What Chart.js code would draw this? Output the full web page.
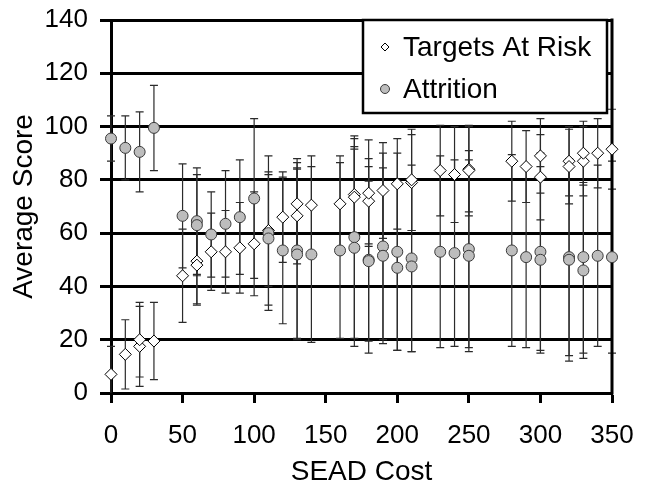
<!DOCTYPE html>
<html>
<head>
<meta charset="utf-8">
<script src="https://cdn.jsdelivr.net/npm/chart.js@4.4.1/dist/chart.umd.min.js"></script>
<style>
  body { margin: 0; background: #fff; }
  #wrap { width: 645px; height: 483px; }
</style>
</head>
<body>
<div id="wrap"><canvas id="grafico" width="645" height="483"></canvas></div>
<script>
// Targets At Risk (diamonds)
const targetCost = [0, 10, 20, 20, 30, 50, 60, 60, 70, 80, 90, 100, 110, 120, 130, 130, 140, 160, 170, 170,
  180, 180, 190, 200, 210, 210, 230, 240, 250, 250, 280, 290, 300, 300, 320, 320, 330, 330, 340, 350];
const targetScore = [7, 14.5, 17.5, 20, 19.5, 44, 49.5, 48, 53, 53, 54.5, 56, 61, 66, 66.5, 71, 70.5, 71, 74.5, 73.5,
  72, 75, 76, 78.5, 79, 80, 83.5, 82, 84, 83.5, 87, 85, 89, 81, 87, 85, 87, 90, 90, 91.5];
const targetErr = [10.5, 13, 15, 14, 14.5, 17.5, 16, 15, 14.5, 15.5, 17, 19.5, 21, 17, 18, 17, 18.5, 18, 21, 19,
  16, 20, 18, 17, 18, 19, 17, 18, 16, 17, 15, 13.5, 14, 16, 13, 14, 13, 12, 13, 15];

// Attrition (circles)
const attritionCost = [0, 10, 20, 30, 50, 60, 60, 70, 80, 90, 100, 110, 110, 120, 130, 130, 140, 160, 170, 170,
  180, 180, 190, 190, 200, 200, 210, 210, 230, 240, 250, 250, 280, 290, 300, 300, 320, 320, 330, 330, 340, 350];
const attritionScore = [95.5, 92, 90.5, 99.5, 66.5, 64.5, 63, 59.5, 63.5, 66, 73, 60, 58, 53.5, 53.5, 52, 52, 53.5, 58.5, 54.5,
  50, 49.5, 55, 51.5, 53, 47, 50.5, 47.5, 53, 52.5, 54, 51.5, 53.5, 51, 53, 50, 51, 50, 51, 46, 51.5, 51];
const attritionErr = [8.5, 12, 15, 16, 19.5, 20, 19, 16, 20, 21.5, 30, 29, 25, 27.5, 33, 32, 33, 33, 38, 37,
  35, 30, 35, 33, 37, 31, 35, 32, 36, 35, 37, 36, 36, 34, 37, 35, 37, 38, 36, 33, 34, 36];

const xTicks = [0, 50, 100, 150, 200, 250, 300, 350];
const yTicks = [0, 20, 40, 60, 80, 100, 120, 140];

const FUENTE = "'Liberation Sans', Arial, sans-serif";

function puntos(xs, ys, errs) {
  return xs.map((x, i) => ({ x: x, y: ys[i], err: errs[i] }));
}

// barras de error dibujadas con las escalas del grafico
const errorBars = {
  id: 'errorBars',
  beforeDatasetsDraw(chart) {
    const { ctx, chartArea, scales } = chart;
    ctx.save();
    ctx.beginPath();
    ctx.rect(chartArea.left - 10, chartArea.top - 10, chartArea.right - chartArea.left + 20, chartArea.bottom - chartArea.top + 10);
    ctx.clip();
    ctx.strokeStyle = '#2b2b2b';
    ctx.lineWidth = 1.2;
    chart.data.datasets.forEach(ds => {
      ds.data.forEach(p => {
        const px = scales.x.getPixelForValue(p.x);
        const top = scales.y.getPixelForValue(p.y + p.err);
        const bot = scales.y.getPixelForValue(p.y - p.err);
        ctx.beginPath();
        ctx.moveTo(px, top); ctx.lineTo(px, bot);
        ctx.moveTo(px - 4, top); ctx.lineTo(px + 4, top);
        ctx.moveTo(px - 4, bot); ctx.lineTo(px + 4, bot);
        ctx.stroke();
      });
    });
    ctx.restore();

    // borde derecho del area
    ctx.save();
    ctx.strokeStyle = '#000';
    ctx.lineWidth = 3;
    ctx.beginPath();
    ctx.moveTo(chartArea.right, chartArea.top - 1.5);
    ctx.lineTo(chartArea.right, chartArea.bottom + 1.5);
    ctx.stroke();
    ctx.restore();
  }
};

// leyenda con recuadro dentro del area
const leyendaCaja = {
  id: 'leyendaCaja',
  afterDraw(chart) {
    const { ctx, chartArea } = chart;
    const right = chartArea.right - 5;
    const left = right - 244;
    const top = chartArea.top;
    const h = 93;
    ctx.save();
    ctx.fillStyle = '#fff';
    ctx.fillRect(left, top, right - left, h);
    ctx.strokeStyle = '#000';
    ctx.lineWidth = 2.5;
    ctx.strokeRect(left, top, right - left, h);

    const items = chart.data.datasets;
    items.forEach((ds, i) => {
      const cy = top + 27 + i * 42;
      const cx = left + 22;
      ctx.lineWidth = 1;
      ctx.strokeStyle = ds.borderColor;
      ctx.fillStyle = ds.backgroundColor;
      ctx.beginPath();
      if (ds.pointStyle === 'rectRot') {
        ctx.moveTo(cx, cy - 4); ctx.lineTo(cx + 4, cy); ctx.lineTo(cx, cy + 4); ctx.lineTo(cx - 4, cy); ctx.closePath();
      } else {
        ctx.arc(cx, cy, 4.5, 0, Math.PI * 2);
      }
      ctx.fill();
      ctx.stroke();
      ctx.fillStyle = '#000';
      ctx.font = '28px ' + FUENTE;
      ctx.textBaseline = 'middle';
      ctx.textAlign = 'left';
      ctx.fillText(ds.label, left + 40, cy + 1);
    });
    ctx.restore();
  }
};

new Chart(document.getElementById('grafico'), {
  type: 'scatter',
  data: {
    datasets: [{
      label: 'Targets At Risk',
      data: puntos(targetCost, targetScore, targetErr),
      pointStyle: 'rectRot',
      pointRadius: 6,
      pointHoverRadius: 6,
      backgroundColor: '#ffffff',
      borderColor: '#000000',
      borderWidth: 1,
      clip: false,
      order: 2
    }, {
      label: 'Attrition',
      data: puntos(attritionCost, attritionScore, attritionErr),
      pointStyle: 'circle',
      pointRadius: 5.5,
      pointHoverRadius: 5.5,
      backgroundColor: '#bdbdbd',
      borderColor: '#3a3a3a',
      borderWidth: 1,
      clip: false,
      order: 1
    }]
  },
  options: {
    responsive: false,
    animation: false,
    layout: { padding: { top: 20, right: 33, left: 0, bottom: 0 } },
    plugins: { legend: { display: false }, tooltip: { enabled: false } },
    scales: {
      x: {
        type: 'linear',
        min: 0, max: 350,
        afterFit: s => { s.height = 90; s.paddingLeft = 0; s.paddingRight = 0; },
        afterBuildTicks: s => { s.ticks = xTicks.map(v => ({ value: v })); },
        border: { display: true, color: '#000', width: 3 },
        grid: { drawOnChartArea: false, drawTicks: true, tickLength: 10, tickWidth: 3, tickColor: '#000', color: '#000' },
        ticks: { color: '#000', padding: 17, font: { family: FUENTE, size: 26 }, autoSkip: false, maxRotation: 0 },
        title: { display: true, text: 'SEAD Cost', color: '#000', font: { family: FUENTE, size: 28 }, padding: { top: 0, bottom: -6 } }
      },
      y: {
        min: 0, max: 140,
        afterFit: s => { s.width = 111; s.paddingTop = 0; s.paddingBottom = 0; },
        afterBuildTicks: s => { s.ticks = yTicks.map(v => ({ value: v })); },
        border: { display: true, color: '#000', width: 3 },
        grid: { color: '#000', lineWidth: 3, tickLength: 11, drawTicks: true },
        ticks: { color: '#000', padding: 12, font: { family: FUENTE, size: 26 } },
        title: { display: true, text: 'Average Score', color: '#000', font: { family: FUENTE, size: 28 }, padding: { top: 7, bottom: 0 } }
      }
    }
  },
  plugins: [errorBars, leyendaCaja]
});
</script>
</body>
</html>
